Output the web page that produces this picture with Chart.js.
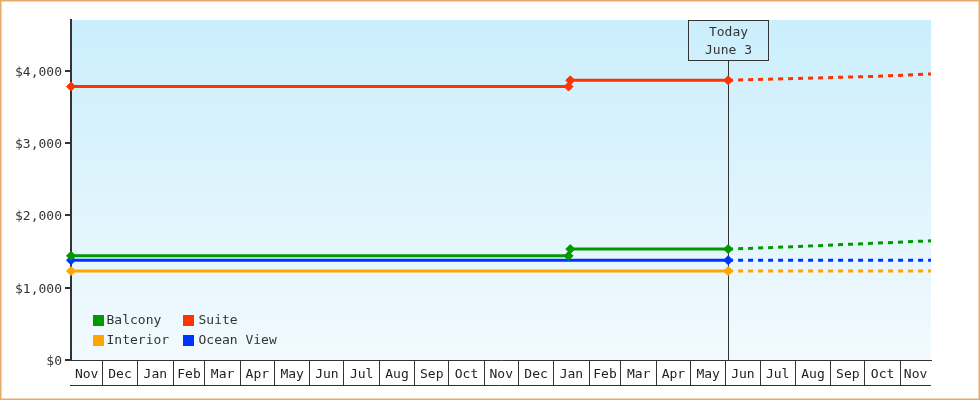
<!DOCTYPE html>
<html>
<head>
<meta charset="utf-8">
<title>Cabin prices</title>
<script src="https://cdn.jsdelivr.net/npm/chart.js@4.4.1/dist/chart.umd.min.js"></script>
<style>
  html, body { margin: 0; padding: 0; background: #fff; }
  #wrap { width: 980px; height: 400px; }
</style>
</head>
<body>
<div id="wrap"><canvas id="priceChart" width="980" height="400"></canvas></div>
<script>
// month cells on the bottom axis, first one is November
var monthLabels = ['Nov', 'Dec', 'Jan', 'Feb', 'Mar', 'Apr', 'May', 'Jun', 'Jul', 'Aug', 'Sep', 'Oct',
                   'Nov', 'Dec', 'Jan', 'Feb', 'Mar', 'Apr', 'May', 'Jun', 'Jul', 'Aug', 'Sep', 'Oct', 'Nov'];
var monthDays = [30, 31, 31, 28, 31, 30, 31, 30, 31, 31, 30, 31,
                 30, 31, 31, 28, 31, 30, 31, 30, 31, 31, 30, 31, 30];

// x values are day numbers counted from Nov 1 of the first year
var firstDay = 2.5;
var lastDay = 757;
var today = 579; // June 3
var todayLabel = ['Today', 'June 3'];

var yTicks = [0, 1000, 2000, 3000, 4000];
var yMax = 4700;

var seriesNames = ['Balcony', 'Suite', 'Interior', 'Ocean View'];
var seriesColors = ['#009900', '#ff3300', '#ffa500', '#0033ff'];

var balconyDays = [2.5, 439, 440.5, 579, 635, 679, 757];
var balconyPrices = [1440, 1440, 1533, 1533, 1565, 1595, 1648];
var suiteDays = [2.5, 439, 440.5, 579, 623, 711, 757];
var suitePrices = [3780, 3780, 3867, 3867, 3885, 3922, 3955];
var interiorDays = [2.5, 579, 757];
var interiorPrices = [1230, 1230, 1230];
var oceanDays = [2.5, 579, 757];
var oceanPrices = [1380, 1380, 1380];

// month boundaries and label positions for the x axis
var monthStarts = [0];
monthDays.forEach(function (d, i) { monthStarts.push(monthStarts[i] + d); });
var xLabelAt = {};
var xTicks = [];
monthLabels.forEach(function (m, i) {
    var a = Math.max(monthStarts[i], firstDay);
    var b = Math.min(monthStarts[i + 1], lastDay);
    if (monthStarts[i] > firstDay) xTicks.push(monthStarts[i]);
    var mid = (a + b) / 2;
    xLabelAt[mid] = m;
    xTicks.push(mid);
});

function points(days, prices) {
    return days.map(function (d, i) { return { x: d, y: prices[i] }; });
}

function makeSet(i, days, prices) {
    var c = seriesColors[i];
    return {
        label: seriesNames[i],
        data: points(days, prices),
        borderColor: c,
        backgroundColor: c,
        borderWidth: 3,
        pointStyle: 'rectRot',
        pointRadius: function (ctx) { return ctx.raw && ctx.raw.x <= today ? 4.5 : 0; },
        pointHoverRadius: 0,
        pointBorderWidth: 1,
        pointBorderColor: c,
        pointBackgroundColor: c,
        tension: 0,
        clip: false,
        segment: {
            borderDash: function (ctx) { return ctx.p0.parsed.x >= today ? [5, 5] : undefined; }
        }
    };
}

var bgPlugin = {
    id: 'bg',
    beforeDraw: function (chart) {
        var ctx = chart.ctx, a = chart.chartArea;
        ctx.save();
        ctx.fillStyle = '#fff';
        ctx.fillRect(0, 0, chart.width, chart.height);
        var g = ctx.createLinearGradient(0, a.top, 0, a.bottom);
        g.addColorStop(0, '#cbeefc');
        g.addColorStop(1, '#f2fafe');
        ctx.fillStyle = g;
        ctx.fillRect(a.left, a.top, a.right - a.left, a.bottom - a.top);
        ctx.restore();
    },
    afterDraw: function (chart) {
        var ctx = chart.ctx, a = chart.chartArea;
        ctx.save();
        // bottom edge of the month cells
        ctx.strokeStyle = '#333';
        ctx.lineWidth = 1;
        ctx.beginPath();
        ctx.moveTo(a.left - 1, a.bottom + 25.5);
        ctx.lineTo(a.right, a.bottom + 25.5);
        ctx.stroke();
        // frame
        ctx.strokeStyle = '#e8aa6a';
        ctx.lineWidth = 1.5;
        ctx.strokeRect(0.75, 0.75, chart.width - 1.5, chart.height - 1.5);
        ctx.restore();
    }
};

var todayPlugin = {
    id: 'today',
    beforeDatasetsDraw: function (chart) {
        var ctx = chart.ctx, a = chart.chartArea;
        var x = Math.round(chart.scales.x.getPixelForValue(today)) + 0.5;
        var w = 80, h = 40;
        ctx.save();
        ctx.strokeStyle = '#333';
        ctx.lineWidth = 1;
        ctx.beginPath();
        ctx.moveTo(x, a.top + h);
        ctx.lineTo(x, a.bottom);
        ctx.stroke();
        ctx.strokeRect(x - w / 2, a.top + 0.5, w, h);
        ctx.fillStyle = '#333';
        ctx.font = '13px "DejaVu Sans Mono"';
        ctx.textAlign = 'center';
        ctx.textBaseline = 'middle';
        ctx.fillText(todayLabel[0], x, a.top + 12.5);
        ctx.fillText(todayLabel[1], x, a.top + 30.5);
        ctx.restore();
    }
};

var legendPlugin = {
    id: 'boxLegend',
    afterDatasetsDraw: function (chart) {
        var ctx = chart.ctx, a = chart.chartArea;
        var cols = [{ box: 22, text: 35.5 }, { box: 112, text: 127.5 }];
        ctx.save();
        ctx.font = '13px "DejaVu Sans Mono"';
        ctx.textAlign = 'left';
        ctx.textBaseline = 'middle';
        chart.data.datasets.forEach(function (ds, i) {
            var col = cols[i % 2];
            var top = a.bottom - 45 + Math.floor(i / 2) * 20;
            ctx.fillStyle = ds.borderColor;
            ctx.fillRect(a.left + col.box, top, 11, 11);
            ctx.fillStyle = '#333';
            ctx.fillText(ds.label, a.left + col.text, top + 6);
        });
        ctx.restore();
    }
};

Chart.defaults.font.family = '"DejaVu Sans Mono"';
Chart.defaults.font.size = 13;
Chart.defaults.color = '#333';

new Chart(document.getElementById('priceChart').getContext('2d'), {
    type: 'line',
    data: {
        datasets: [
            makeSet(0, balconyDays, balconyPrices),
            makeSet(1, suiteDays, suitePrices),
            makeSet(2, interiorDays, interiorPrices),
            makeSet(3, oceanDays, oceanPrices)
        ]
    },
    options: {
        responsive: false,
        animation: false,
        layout: { padding: { top: 20, right: 49, left: 0, bottom: 0 } },
        plugins: {
            legend: { display: false },
            tooltip: { enabled: false },
            title: { display: false }
        },
        scales: {
            x: {
                type: 'linear',
                min: firstDay,
                max: lastDay,
                afterBuildTicks: function (scale) {
                    scale.ticks = xTicks.map(function (v) { return { value: v }; });
                },
                afterFit: function (scale) { scale.height = 40; },
                ticks: {
                    autoSkip: false,
                    maxRotation: 0,
                    padding: -18,
                    color: '#222',
                    callback: function (value) {
                        return xLabelAt[value] !== undefined ? xLabelAt[value] : '';
                    }
                },
                grid: {
                    drawOnChartArea: false,
                    tickLength: 25,
                    lineWidth: 1,
                    color: function (ctx) {
                        return ctx.tick && xLabelAt[ctx.tick.value] === undefined ? '#333' : 'rgba(0,0,0,0)';
                    }
                },
                border: { display: true, color: '#333', width: 1 }
            },
            y: {
                min: 0,
                max: yMax,
                afterBuildTicks: function (scale) {
                    scale.ticks = yTicks.map(function (v) { return { value: v }; });
                },
                afterFit: function (scale) { scale.width = 71; },
                ticks: {
                    padding: 3,
                    labelOffset: 1.5,
                    color: '#333',
                    callback: function (value) { return '$' + value.toLocaleString('en-US'); }
                },
                grid: {
                    drawOnChartArea: false,
                    tickLength: 6,
                    lineWidth: 2,
                    color: '#333'
                },
                border: { display: true, color: '#333', width: 2 }
            }
        }
    },
    plugins: [bgPlugin, todayPlugin, legendPlugin]
});
</script>
</body>
</html>
